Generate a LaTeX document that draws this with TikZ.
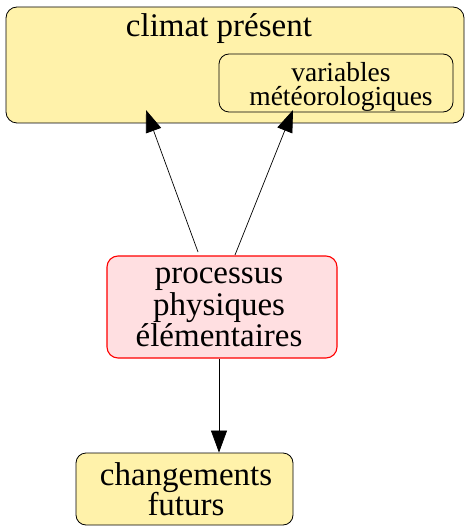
\documentclass[tikz,border=0pt]{standalone}
\usepackage{fontspec}
\setmainfont{Liberation Serif}
\usetikzlibrary{arrows.meta}
\definecolor{ylw}{HTML}{FFF2AA}
\definecolor{pnk}{HTML}{FFDFE1}
\definecolor{rd}{HTML}{FF0000}
\tikzset{
  ybox/.style={draw=black, fill=ylw, rounded corners=11pt, line width=0.8pt, inner sep=0pt},
  pbox/.style={draw=rd, fill=pnk, rounded corners=11pt, line width=1.1pt, inner sep=0pt},
  bigtxt/.style={font=\fontsize{33}{33}\selectfont, inner sep=0pt, anchor=base},
  smalltxt/.style={font=\fontsize{27.5}{27.5}\selectfont, inner sep=0pt, anchor=base, text height=17pt, text depth=5pt},
  arr/.style={-{Triangle[length=22pt,width=16pt]}, line width=0.7pt, black}
}
\begin{document}
\begin{tikzpicture}[x=1pt,y=1pt]
\useasboundingbox (0,0) rectangle (466,-526);
% outer box
\node[ybox, minimum width=458pt, minimum height=116pt] (clim) at (235,-65) {};
\node[bigtxt] (climT) at (219,-37) {climat présent};
% inner box
\node[ybox, rounded corners=10pt, minimum width=234pt, minimum height=58pt] (var) at (336,-83) {};
\node[smalltxt] (varA) at (341,-82) {variables};
\node[smalltxt] (varB) at (341,-106) {météorologiques};
% processus
\node[pbox, minimum width=230pt, minimum height=102pt] (proc) at (222,-307) {};
\node[bigtxt] (procA) at (219,-283) {processus};
\node[bigtxt] (procB) at (219,-315) {physiques};
\node[bigtxt] (procC) at (219,-346) {élémentaires};
% changements
\node[ybox, rounded corners=10pt, minimum width=217pt, minimum height=72pt] (chg) at (184.5,-489) {};
\node[bigtxt] (chgA) at (186,-485) {changements};
\node[bigtxt] (chgB) at (186,-515) {futurs};
% arrows
\coordinate (s1) at (198,-252);
\coordinate (t1) at (146,-110);
\coordinate (s2) at (235,-255);
\coordinate (t2) at (293,-110);
\draw[arr] (s1) -- (t1);
\draw[arr] (s2) -- (t2);
\draw[arr] (proc.south -| 219,0) -- (chg.north -| 219,0);
\end{tikzpicture}
\end{document}
